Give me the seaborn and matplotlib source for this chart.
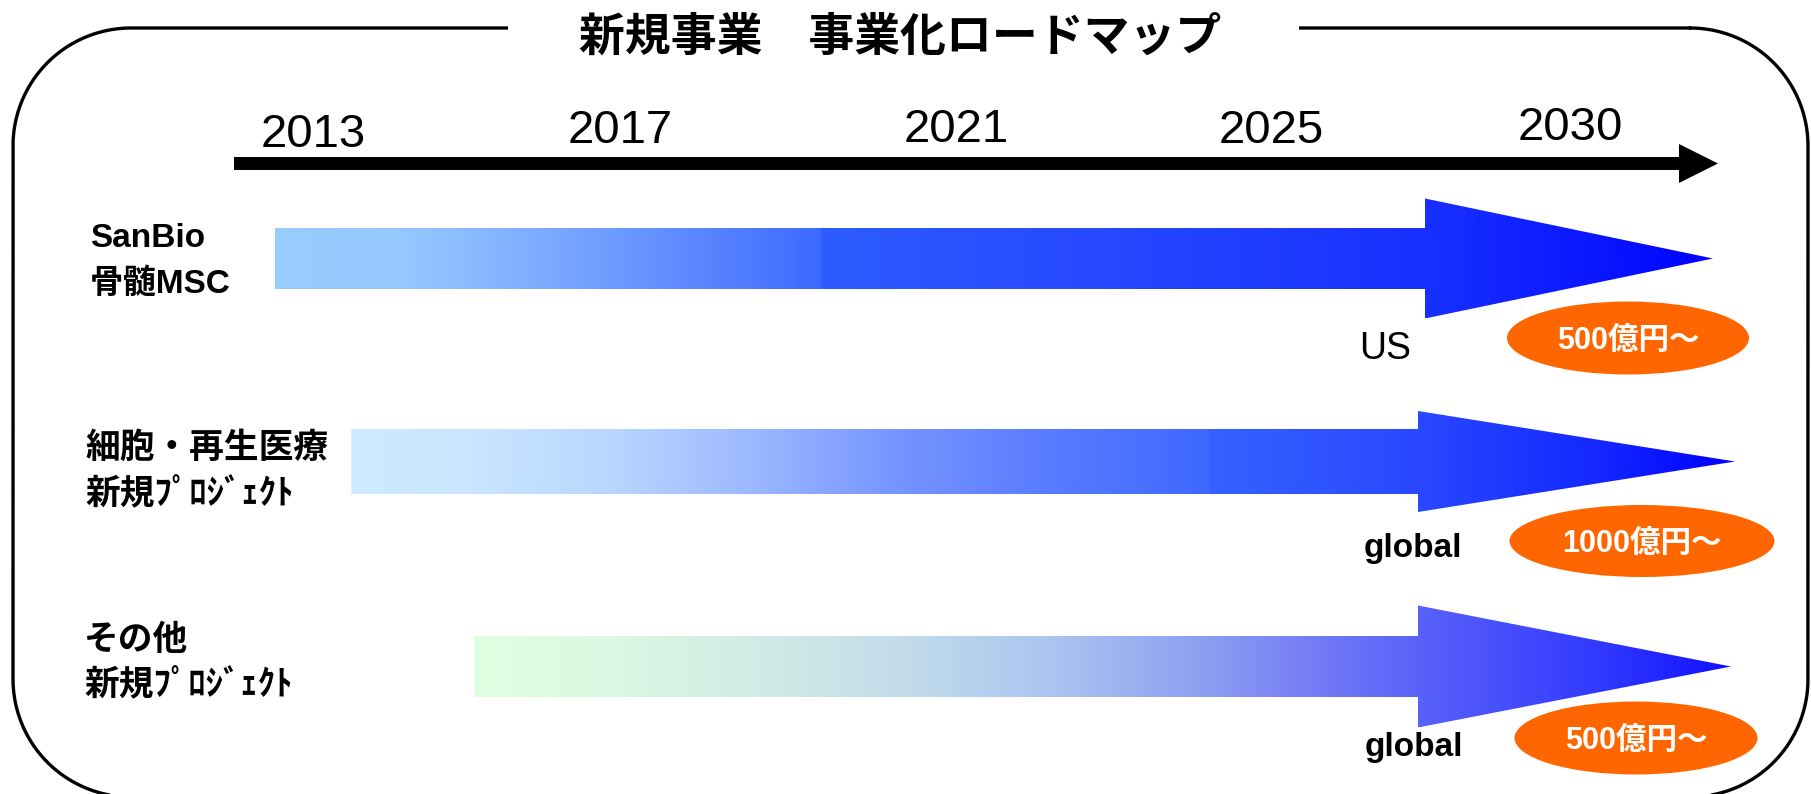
import numpy as np
import matplotlib
matplotlib.use("Agg")
import matplotlib.pyplot as plt
import seaborn as sns
from matplotlib.patches import Polygon, Ellipse, Rectangle
from matplotlib.colors import to_rgb

# ---------------- data ----------------
title = "新規事業　事業化ロードマップ"
years = [2013, 2017, 2021, 2025, 2030]
year_labels = ["2013", "2017", "2021", "2025", "2030"]
project_line1 = ["SanBio", "細胞・再生医療", "その他"]
project_line2 = ["骨髄MSC", "新規ﾌﾟﾛｼﾞｪｸﾄ", "新規ﾌﾟﾛｼﾞｪｸﾄ"]
start_years = [2012.5, 2013.5, 2015.1]
markets = ["US", "global", "global"]
revenues = ["500億円～", "1000億円～", "500億円～"]

# ---------------- layout / style ----------------
W, H = 1811, 794
YEAR_X = [313, 620, 956, 1271, 1570]          # timeline scale anchors
YEAR_BASE = [147, 143, 142, 143, 140]
ROW_Y = [258.5, 461.5, 666.5]
SHAFT_H = [61, 65, 61]
HEAD_H = [120, 101, 122]
HEAD_X = [1425, 1418, 1418]
TIP_X = [1713, 1735, 1731]
GRAD = [
    [(0.00, "#99CCFF"), (0.09, "#95C8FF"), (0.19, "#7CAAFF"), (0.29, "#5C88FF"),
     (0.379, "#3C6AFF"), (0.380, "#2E5CFF"), (0.58, "#2648FF"), (0.80, "#1830FF"),
     (0.92, "#0A16FF"), (1.00, "#0000FF")],
    [(0.00, "#CCEBFF"), (0.09, "#C8E6FF"), (0.19, "#B8D6FF"), (0.29, "#9CB8FF"),
     (0.39, "#7896FF"), (0.50, "#5A7CFF"), (0.620, "#3E68FF"), (0.621, "#3462FF"),
     (0.77, "#2A48FF"), (0.90, "#1428FF"), (1.00, "#0000FF")],
    [(0.00, "#E0FFE0"), (0.10, "#DDF8E2"), (0.22, "#D2ECE6"), (0.34, "#C2DCEA"),
     (0.46, "#ACC4F0"), (0.58, "#8E9EF2"), (0.68, "#7078F6"), (0.75, "#5A62FA"),
     (0.90, "#3038FF"), (1.00, "#1010FF")],
]
LABEL_X = [90, 85, 84]
LINE_BASE = [(247, 293), (458, 503), (650, 694)]
MARKET_POS = [(1359, 359), (1364, 557), (1365, 756)]
ELL_C = [(1628, 338), (1642, 541), (1636, 738)]
ELL_W = [242, 265, 243]
ELL_H = [73, 72, 73]
ORANGE = "#FF6600"
LATIN_CJK = ["Liberation Sans", "Noto Sans CJK JP", "DejaVu Sans"]
FRAME = (13, 28, 1808, 797)   # left, top, right, bottom
FRAME_R = 118

sns.set_theme(style="white")
plt.rcParams["font.family"] = LATIN_CJK
plt.rcParams["text.color"] = "black"


def year_to_x(y):
    y = float(y)
    if y < years[0]:
        slope = (YEAR_X[1] - YEAR_X[0]) / (years[1] - years[0])
        return YEAR_X[0] + (y - years[0]) * slope
    return float(np.interp(y, years, YEAR_X))


def rounded_rect(l, t, r, b, rad, n=40):
    pts = []
    corners = [(r - rad, t + rad, -90, 0), (r - rad, b - rad, 0, 90),
               (l + rad, b - rad, 90, 180), (l + rad, t + rad, 180, 270)]
    for cx, cy, a0, a1 in corners:
        a = np.radians(np.linspace(a0, a1, n))
        pts.append(np.column_stack([cx + rad * np.cos(a), cy + rad * np.sin(a)]))
    pts = np.vstack(pts)
    return np.vstack([pts, pts[:1]])


fig = plt.figure(figsize=(W / 100, H / 100), dpi=100)
ax = fig.add_axes([0, 0, 1, 1])
ax.set_xlim(0, W)
ax.set_ylim(H, 0)
ax.axis("off")

# rounded frame
fp = rounded_rect(*FRAME, FRAME_R)
ax.plot(fp[:, 0], fp[:, 1], color="black", lw=2.4, zorder=2, clip_on=False,
        solid_joinstyle="round")
ax.add_patch(Rectangle((508, 18), 791, 20, fc="white", ec="none", zorder=3))
ax.text(900, 38, title, ha="center", va="center", fontsize=33,
        fontweight="bold", color="black",
        family=["Noto Sans CJK JP", "DejaVu Sans"], zorder=4)

# timeline arrow
tl_start = 234
tl = Polygon([(tl_start, 157), (1679, 157), (1679, 144), (1718, 163.5),
              (1679, 183), (1679, 170), (tl_start, 170)],
             closed=True, fc="black", ec="none", zorder=3)
ax.add_patch(tl)
for yl, yr, b in zip(year_labels, years, YEAR_BASE):
    ax.text(year_to_x(yr), b, yl, ha="center", va="baseline", fontsize=34,
            color="black", family=["Liberation Sans"], zorder=4)

# project arrows
for i in range(3):
    x0 = year_to_x(start_years[i])
    yc = ROW_Y[i]
    sh = SHAFT_H[i] / 2
    hh = HEAD_H[i] / 2
    hx, tx = HEAD_X[i], TIP_X[i]
    poly = Polygon([(x0, yc - sh), (hx, yc - sh), (hx, yc - hh), (tx, yc),
                    (hx, yc + hh), (hx, yc + sh), (x0, yc + sh)],
                   closed=True, fc="none", ec="none", zorder=3)
    ax.add_patch(poly)
    stops = GRAD[i]
    pos = [s[0] for s in stops]
    cols = np.array([to_rgb(s[1]) for s in stops])
    t = np.linspace(0, 1, 1200)
    img = np.stack([np.interp(t, pos, cols[:, k]) for k in range(3)], axis=-1)[None, :, :]
    im = ax.imshow(img, extent=[x0, tx, yc + hh, yc - hh], aspect="auto",
                   interpolation="bilinear", zorder=3)
    im.set_clip_path(poly)

    # labels
    lx = LABEL_X[i]
    b1, b2 = LINE_BASE[i]
    fs = 24 if i == 0 else 25
    ax.text(lx, b1, project_line1[i], ha="left", va="baseline", fontsize=fs,
            fontweight="bold", color="black", zorder=4)
    ax.text(lx, b2, project_line2[i], ha="left", va="baseline", fontsize=fs,
            fontweight="bold", color="black", zorder=4)

    # market label
    mx, my = MARKET_POS[i]
    if markets[i] == "US":
        ax.text(mx, my, markets[i], ha="left", va="baseline", fontsize=27,
                color="black", zorder=4)
    else:
        ax.text(mx, my, markets[i], ha="left", va="baseline", fontsize=24,
                fontweight="bold", color="black", zorder=4)

    # revenue ellipse
    cx, cy = ELL_C[i]
    ax.add_patch(Ellipse((cx, cy), ELL_W[i], ELL_H[i], fc=ORANGE, ec="none", zorder=3))
    ax.text(cx, cy + 3, revenues[i], ha="center", va="center", fontsize=22,
            fontweight="bold", color="white", zorder=4)

fig.savefig("out.png", dpi=100, facecolor="white")
